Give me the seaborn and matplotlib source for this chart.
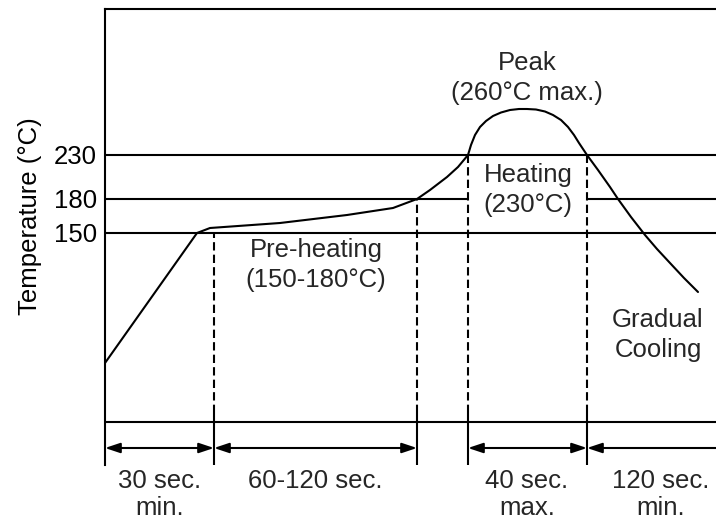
import matplotlib
matplotlib.use("Agg")
import matplotlib.pyplot as plt
import seaborn as sns

# schematic reflow profile (not to scale): time units on x, height units on y
profile_t = [0, 92, 105, 175, 242, 288, 312, 325, 342, 353, 363, 366, 370, 375,
             381, 388, 396, 405, 414, 422, 431, 440, 448, 456, 463, 469, 474, 478, 482,
             493, 505, 513, 526, 540, 552, 565, 579, 593]
profile_h = [102, 232, 237, 242, 250, 257, 266, 275, 288, 298, 310, 320, 330, 338,
             344, 349, 352.5, 355, 356, 356, 355.5, 353.5, 350, 345, 338, 330, 322, 316, 310,
             295, 278, 266, 248, 230, 216, 202, 187, 173]

# temperature levels and their heights on the schematic axis
level_h = [232, 266, 310]
level_labels = ["150", "180", "230"]

# phase boundaries (time) and the level each dashed line starts from
bound_t = [109, 312, 363, 482]
bound_top = [232, 266, 310, 310]

t_end = 611
h_top = 456
ruler_h = 43
arrow_h = 17
tick_h = 52

phase_labels = ["Peak\n(260°C max.)", "Heating\n(230°C)",
                "Pre-heating\n(150-180°C)", "Gradual\nCooling"]
phase_x = [422, 423, 211, 553]
phase_y = [414, 302, 227, 157]

duration_labels = ["30 sec.\nmin.", "60-120 sec.", "40 sec.\nmax.", "120 sec.\nmin."]
duration_x = [55, 210, 422, 556]

sns.set_theme(style="white")
plt.rcParams["font.family"] = ["Liberation Sans", "DejaVu Sans"]
FS = 18.5
LW = 1.5

fig = plt.figure(figsize=(7.16, 5.21), dpi=100)
ax = fig.add_axes([105 / 716, 56 / 521, 611 / 716, 456 / 521])

sns.lineplot(x=profile_t, y=profile_h, sort=False, color="black", lw=LW, ax=ax)

# temperature levels; 180 line is broken where the heating label sits
ax.hlines([level_h[0], level_h[2]], 0, t_end, color="black", lw=LW)
ax.hlines([level_h[1], level_h[1]], [0, bound_t[3]], [bound_t[2], t_end],
          color="black", lw=LW)

# phase boundaries
ax.vlines(bound_t, tick_h, bound_top, color="black", lw=LW, linestyles=(0, (4, 2)))
ax.vlines(bound_t, 0, tick_h, color="black", lw=LW)
ax.hlines(ruler_h, 0, t_end, color="black", lw=LW)

# duration arrows
spans = [(0, bound_t[0], "<|-|>"), (bound_t[0], bound_t[1], "<|-|>"),
         (bound_t[2], bound_t[3], "<|-|>"), (bound_t[3], t_end, "<|-")]
for t0, t1, style in spans:
    ax.annotate("", xy=(t1, arrow_h), xytext=(t0, arrow_h),
                arrowprops=dict(arrowstyle=style + ",head_length=0.6,head_width=0.2",
                                color="black", lw=LW, shrinkA=0, shrinkB=0,
                                mutation_scale=15))

for lab, x, y in zip(phase_labels, phase_x, phase_y):
    ax.text(x, y, lab, ha="center", va="top", fontsize=FS, linespacing=1.3)

for lab, x in zip(duration_labels, duration_x):
    ax.text(x, -4, lab, ha="center", va="top", fontsize=FS, linespacing=1.18,
            clip_on=False)

ax.set_xlim(0, t_end)
ax.set_ylim(0, h_top)
ax.set_xticks([])
ax.set_yticks(level_h, level_labels)
ax.tick_params(axis="y", length=0, pad=5.8, labelsize=FS, colors="black")
ax.set_ylabel("Temperature (°C)", fontsize=FS, color="black")
ax.yaxis.set_label_coords(-0.103, 0.546)

for side in ["right", "bottom"]:
    ax.spines[side].set_visible(False)
for side in ["top", "left"]:
    ax.spines[side].set_color("black")
    ax.spines[side].set_linewidth(LW)

fig.savefig("out.png", dpi=100)
